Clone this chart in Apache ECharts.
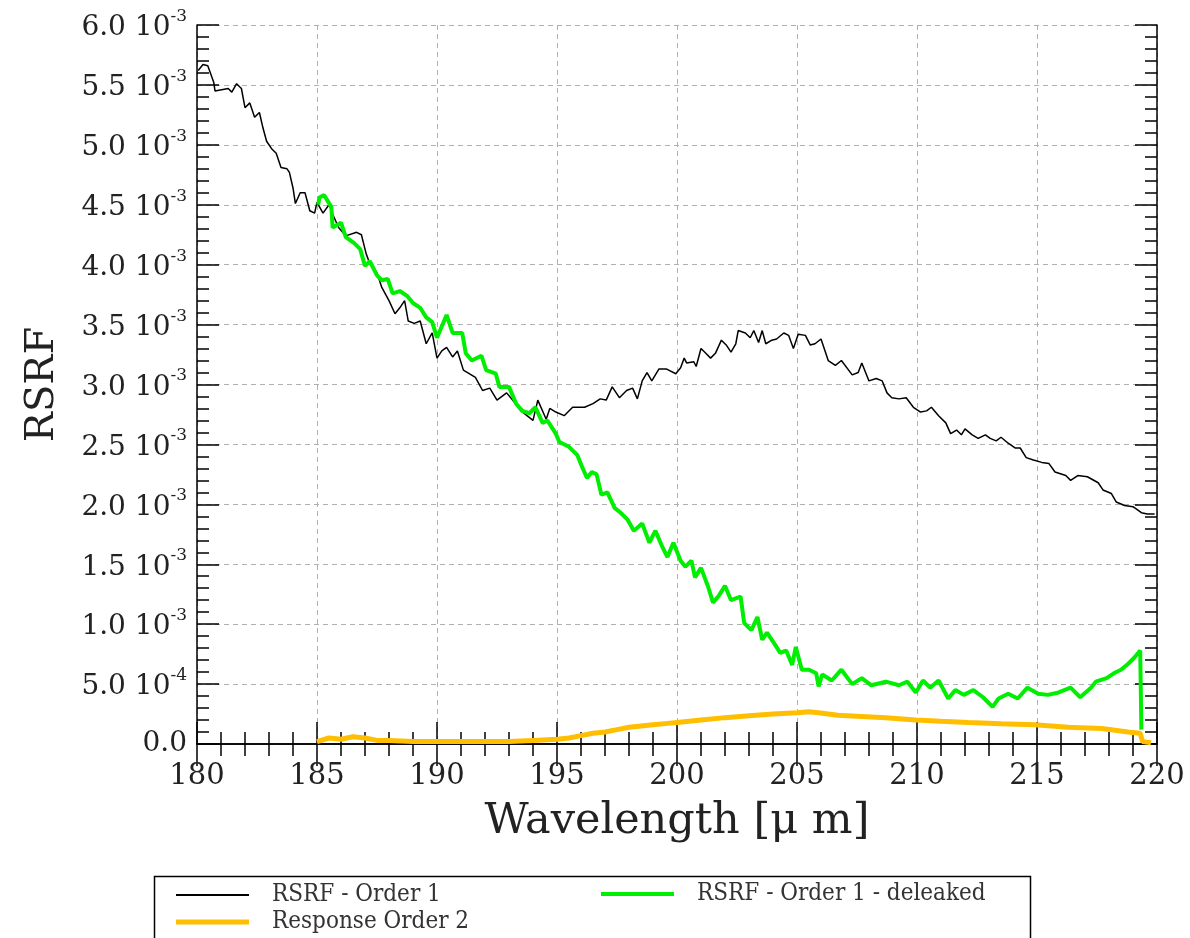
<!DOCTYPE html>
<html>
<head>
<meta charset="utf-8">
<script src="https://cdn.jsdelivr.net/npm/echarts@6/dist/echarts.min.js"></script>
<style>
  html, body { margin: 0; padding: 0; background: #fff; }
  #chart { width: 1190px; height: 938px; }
</style>
</head>
<body>
<div id="chart"></div>
<script>
// values in units of 1e-3
const order1Wl = [180.05, 180.25, 180.45, 180.7, 180.75, 181.3, 181.45, 181.65, 181.85, 182.0, 182.2, 182.4, 182.6, 182.75, 182.9, 183.1, 183.3, 183.5, 183.75, 183.85, 184.0, 184.1, 184.3, 184.5, 184.7, 184.9, 185.0, 185.25, 185.5, 185.7, 185.9, 186.2, 186.65, 186.85, 187.05, 187.2, 187.5, 187.7, 188.0, 188.25, 188.45, 188.65, 188.8, 189.05, 189.3, 189.55, 189.8, 190.0, 190.2, 190.4, 190.65, 190.85, 191.1, 191.6, 191.9, 192.2, 192.5, 192.9, 193.15, 193.5, 194.0, 194.2, 194.55, 194.7, 194.95, 195.3, 195.65, 196.15, 196.5, 196.8, 197.05, 197.3, 197.6, 197.9, 198.15, 198.35, 198.55, 198.75, 198.95, 199.25, 199.55, 199.95, 200.15, 200.3, 200.4, 200.7, 200.8, 201.0, 201.2, 201.4, 201.6, 201.85, 202.05, 202.25, 202.45, 202.55, 202.85, 203.05, 203.2, 203.4, 203.55, 203.7, 203.95, 204.15, 204.45, 204.65, 204.85, 205.05, 205.35, 205.55, 205.75, 206.0, 206.2, 206.3, 206.6, 206.85, 207.3, 207.55, 207.7, 208.0, 208.3, 208.55, 208.75, 208.95, 209.25, 209.55, 209.85, 210.15, 210.4, 210.6, 210.9, 211.2, 211.4, 211.65, 211.85, 212.0, 212.3, 212.55, 212.85, 213.05, 213.3, 213.5, 213.8, 214.1, 214.3, 214.55, 214.85, 215.2, 215.5, 215.75, 216.2, 216.4, 216.7, 217.1, 217.55, 217.75, 218.1, 218.3, 218.65, 219.0, 219.35, 219.6, 219.9]
const order1Val = [5.62, 5.67, 5.66, 5.52, 5.45, 5.47, 5.44, 5.51, 5.47, 5.31, 5.35, 5.23, 5.27, 5.14, 5.03, 4.97, 4.93, 4.81, 4.80, 4.77, 4.64, 4.51, 4.60, 4.60, 4.45, 4.43, 4.52, 4.43, 4.50, 4.40, 4.31, 4.24, 4.27, 4.25, 4.09, 4.01, 3.93, 3.81, 3.70, 3.59, 3.64, 3.70, 3.53, 3.51, 3.53, 3.34, 3.43, 3.22, 3.28, 3.31, 3.23, 3.28, 3.12, 3.06, 2.95, 2.97, 2.87, 2.93, 2.87, 2.78, 2.70, 2.87, 2.71, 2.80, 2.77, 2.74, 2.81, 2.81, 2.84, 2.88, 2.87, 2.98, 2.89, 2.95, 2.97, 2.88, 3.03, 3.10, 3.03, 3.13, 3.13, 3.09, 3.14, 3.22, 3.18, 3.19, 3.15, 3.30, 3.26, 3.22, 3.26, 3.37, 3.33, 3.27, 3.34, 3.45, 3.43, 3.39, 3.45, 3.35, 3.45, 3.34, 3.37, 3.38, 3.43, 3.41, 3.30, 3.42, 3.41, 3.33, 3.34, 3.38, 3.26, 3.20, 3.16, 3.20, 3.08, 3.10, 3.18, 3.03, 3.05, 3.03, 2.93, 2.89, 2.88, 2.89, 2.81, 2.77, 2.78, 2.81, 2.74, 2.68, 2.59, 2.62, 2.58, 2.63, 2.58, 2.55, 2.58, 2.55, 2.53, 2.56, 2.51, 2.47, 2.47, 2.39, 2.37, 2.35, 2.34, 2.27, 2.24, 2.20, 2.24, 2.23, 2.18, 2.12, 2.09, 2.02, 1.99, 1.98, 1.93, 1.92, 1.92]

const deleakedWl = [185.05, 185.1, 185.3, 185.6, 185.65, 186.0, 186.2, 186.55, 186.8, 187.0, 187.2, 187.5, 187.7, 187.95, 188.15, 188.45, 188.75, 189.0, 189.3, 189.55, 189.8, 190.0, 190.4, 190.65, 191.05, 191.2, 191.45, 191.85, 192.05, 192.45, 192.6, 193.0, 193.3, 193.55, 193.85, 194.1, 194.4, 194.6, 194.95, 195.1, 195.5, 195.85, 196.05, 196.25, 196.45, 196.65, 196.85, 197.1, 197.4, 197.65, 197.95, 198.2, 198.55, 198.85, 199.1, 199.4, 199.6, 199.85, 200.15, 200.35, 200.6, 200.75, 201.0, 201.3, 201.5, 201.75, 202.0, 202.25, 202.65, 202.8, 203.1, 203.35, 203.55, 203.75, 204.05, 204.3, 204.55, 204.8, 204.95, 205.2, 205.5, 205.8, 205.9, 206.05, 206.45, 206.85, 207.3, 207.7, 208.1, 208.7, 209.25, 209.6, 209.95, 210.25, 210.55, 210.9, 211.3, 211.6, 211.95, 212.35, 212.75, 213.15, 213.4, 213.8, 214.2, 214.6, 215.05, 215.45, 215.9, 216.4, 216.8, 217.25, 217.45, 217.9, 218.2, 218.5, 218.8, 219.05, 219.3, 219.35]
const deleakedVal = [4.50, 4.56, 4.58, 4.48, 4.31, 4.35, 4.23, 4.18, 4.13, 3.99, 4.03, 3.91, 3.87, 3.88, 3.76, 3.78, 3.74, 3.68, 3.64, 3.56, 3.52, 3.39, 3.58, 3.43, 3.43, 3.26, 3.20, 3.24, 3.12, 3.09, 2.98, 2.98, 2.84, 2.78, 2.76, 2.81, 2.68, 2.70, 2.59, 2.52, 2.48, 2.41, 2.31, 2.22, 2.27, 2.25, 2.08, 2.10, 1.97, 1.93, 1.87, 1.78, 1.84, 1.68, 1.78, 1.64, 1.56, 1.68, 1.53, 1.48, 1.53, 1.39, 1.47, 1.31, 1.18, 1.24, 1.32, 1.20, 1.23, 1.01, 0.95, 1.06, 0.87, 0.93, 0.84, 0.76, 0.78, 0.66, 0.81, 0.62, 0.62, 0.59, 0.48, 0.58, 0.53, 0.62, 0.50, 0.55, 0.49, 0.52, 0.49, 0.52, 0.43, 0.53, 0.47, 0.53, 0.38, 0.45, 0.41, 0.45, 0.39, 0.31, 0.38, 0.42, 0.38, 0.47, 0.42, 0.41, 0.43, 0.47, 0.39, 0.47, 0.52, 0.55, 0.59, 0.62, 0.67, 0.72, 0.78, 0.12]

const order2Wl = [185.0, 185.5, 186.0, 186.5, 187.0, 187.5, 188.0, 189.0, 190.0, 191.0, 192.0, 193.0, 194.0, 195.0, 195.5, 196.0, 196.5, 197.0, 197.5, 198.0, 198.5, 199.0, 199.5, 200.0, 201.0, 202.0, 203.0, 204.0, 205.0, 205.5, 205.9, 206.3, 206.7, 207.7, 208.7, 209.95, 211.0, 212.15, 213.5, 214.9, 216.3, 217.7, 218.8, 219.3, 219.4, 219.75]
const order2Val = [0.02, 0.05, 0.04, 0.06, 0.05, 0.03, 0.03, 0.02, 0.02, 0.02, 0.02, 0.02, 0.03, 0.04, 0.05, 0.07, 0.09, 0.10, 0.12, 0.14, 0.15, 0.16, 0.17, 0.18, 0.20, 0.22, 0.235, 0.25, 0.26, 0.27, 0.26, 0.25, 0.24, 0.23, 0.22, 0.20, 0.19, 0.18, 0.17, 0.16, 0.14, 0.13, 0.10, 0.09, 0.02, 0.01]

const xTicks = [180, 185, 190, 195, 200, 205, 210, 215, 220]

const serif = 'DejaVu Serif'
const legendFont = '"DejaVu Serif Condensed", "Liberation Serif", serif'

const pairs = (xs, ys) => xs.map((x, i) => [x, ys[i]])

const fmtY = (v) => {
  if (v === 0) return '{m|0.0}'
  if (v >= 1) return '{m|' + v.toFixed(1) + ' 10}{s|-3}'
  return '{m|' + (v * 10).toFixed(1) + ' 10}{s|-4}'
}

const frameLine = { show: true, lineStyle: { color: '#000', width: 1.5 } }
const tick = { show: true, inside: true, length: 22, lineStyle: { color: '#000', width: 1.5 } }
const minor = { show: true, splitNumber: 5, length: 12, lineStyle: { color: '#000', width: 1.5 } }
const dashed = { show: true, lineStyle: { color: '#b0b0b0', width: 1, type: [5, 4] } }

// one legend per entry so each sits where the reference puts it
const legendItem = (name, icon, left, top) => ({
  left, top, padding: 0,
  itemWidth: 73, itemHeight: 20, selectedMode: false,
  textStyle: { color: '#333', fontSize: 24, fontFamily: legendFont, padding: [0, 0, 0, 18] },
  itemStyle: { borderWidth: 0 },
  data: [{ name, icon }]
})

const chart = echarts.init(document.getElementById('chart'))

chart.setOption({
  animation: false,
  backgroundColor: '#fff',
  grid: { left: 197, right: 33, top: 25, bottom: 194 },
  xAxis: [
    {
      type: 'value', min: xTicks[0], max: xTicks[xTicks.length - 1], interval: 5,
      position: 'bottom',
      axisLine: frameLine, axisTick: tick, minorTick: minor,
      splitLine: dashed,
      axisLabel: { color: '#222', fontSize: 29, fontFamily: serif, margin: 18 },
      name: 'Wavelength [μ m]', nameLocation: 'middle', nameGap: 56,
      nameTextStyle: { color: '#222', fontSize: 43, fontFamily: serif }
    },
    {
      type: 'value', min: xTicks[0], max: xTicks[xTicks.length - 1], interval: 5,
      position: 'top',
      axisLine: frameLine, axisTick: tick, minorTick: minor,
      splitLine: { show: false }, axisLabel: { show: false }
    }
  ],
  yAxis: [
    {
      type: 'value', min: 0, max: 6, interval: 0.5,
      position: 'left',
      axisLine: frameLine, axisTick: tick, minorTick: minor,
      splitLine: dashed,
      axisLabel: {
        margin: 10,
        formatter: fmtY,
        rich: {
          m: { color: '#222', fontSize: 28, fontFamily: serif, verticalAlign: 'bottom' },
          s: { color: '#222', fontSize: 17, fontFamily: serif, verticalAlign: 'bottom', padding: [0, 0, 17, 0] }
        }
      },
      name: 'RSRF', nameLocation: 'middle', nameGap: 134,
      nameTextStyle: { color: '#222', fontSize: 40, fontFamily: serif }
    },
    {
      type: 'value', min: 0, max: 6, interval: 0.5,
      position: 'right',
      axisLine: frameLine, axisTick: tick, minorTick: minor,
      splitLine: { show: false }, axisLabel: { show: false }
    }
  ],
  legend: [
    legendItem('RSRF - Order 1', 'path://M0,0H73V2H0Z', 176, 883),
    legendItem('RSRF - Order 1 - deleaked', 'path://M0,0H73V4H0Z', 601, 882),
    legendItem('Response Order 2', 'path://M0,0H73V5H0Z', 176, 910)
  ],
  graphic: [
    {
      type: 'rect', left: 152, top: 874, silent: true,
      shape: { width: 876, height: 90 },
      style: { fill: 'none', stroke: '#000', lineWidth: 1.5 }
    }
  ],
  series: [
    {
      name: 'RSRF - Order 1', type: 'line', data: pairs(order1Wl, order1Val),
      symbol: 'none', color: '#000', lineStyle: { color: '#000', width: 1.5 }, z: 2
    },
    {
      name: 'RSRF - Order 1 - deleaked', type: 'line', data: pairs(deleakedWl, deleakedVal),
      symbol: 'none', color: '#00ee00', lineStyle: { color: '#00ee00', width: 4 }, z: 3
    },
    {
      name: 'Response Order 2', type: 'line', data: pairs(order2Wl, order2Val),
      symbol: 'none', color: '#ffbf00', lineStyle: { color: '#ffbf00', width: 5 }, z: 2
    }
  ]
})
</script>
</body>
</html>
